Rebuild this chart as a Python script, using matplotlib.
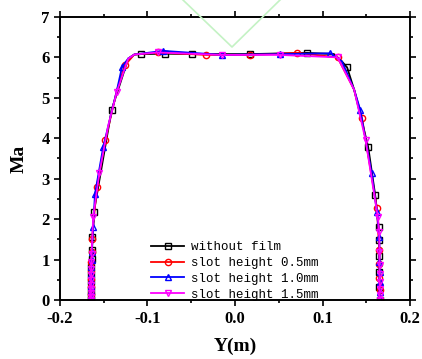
import matplotlib.pyplot as plt
from matplotlib.lines import Line2D
from matplotlib.ticker import MultipleLocator

# Mach number profiles across the channel, Y in metres (marked samples)
y_nofilm = [-0.1645, -0.1645, -0.1644, -0.1643, -0.1642, -0.1640, -0.1638, -0.1634, -0.1628, -0.1612,
            -0.1410, -0.1070, -0.0800, -0.0490, 0.0170, 0.0820, 0.1280, 0.1520,
            0.1600, 0.1640, 0.1645, 0.1647, 0.1648, 0.1649, 0.1650]
ma_nofilm = [0.00, 0.12, 0.28, 0.45, 0.62, 0.82, 1.02, 1.24, 1.55, 2.18,
             4.70, 6.08, 6.09, 6.08, 6.08, 6.11, 5.75, 3.79,
             2.60, 1.81, 1.48, 1.10, 0.70, 0.32, 0.00]

y_05 = [-0.1646, -0.1646, -0.1645, -0.1644, -0.1643, -0.1641, -0.1638, -0.1632, -0.1580, -0.1480,
        -0.1260, -0.0880, -0.0330, 0.0170, 0.0710, 0.1170, 0.1450, 0.1620, 0.1646,
        0.1648, 0.1649, 0.1650, 0.1651]
ma_05 = [0.00, 0.15, 0.32, 0.52, 0.72, 0.95, 1.20, 1.50, 2.80, 3.96,
         5.80, 6.12, 6.06, 6.06, 6.11, 6.00, 4.50, 2.27, 1.24,
         0.90, 0.55, 0.25, 0.00]

y_10 = [-0.1646, -0.1646, -0.1645, -0.1645, -0.1644, -0.1643, -0.1641, -0.1638, -0.1635, -0.1620,
        -0.1600, -0.1505, -0.1290, -0.0820, -0.0150, 0.0510, 0.1090, 0.1430, 0.1560,
        0.1620, 0.1648, 0.1649, 0.1650, 0.1650, 0.1651, 0.1651]
ma_10 = [0.00, 0.10, 0.22, 0.35, 0.50, 0.65, 0.82, 1.00, 1.20, 1.81,
         2.62, 3.79, 5.77, 6.16, 6.06, 6.08, 6.10, 4.70, 3.13,
         2.18, 1.55, 0.95, 0.70, 0.45, 0.20, 0.00]

y_15 = [-0.1647, -0.1647, -0.1646, -0.1646, -0.1645, -0.1645, -0.1644, -0.1643, -0.1641, -0.1638,
        -0.1620, -0.1550, -0.1350, -0.0880, -0.0150, 0.0510, 0.1170, 0.1490, 0.1630,
        0.1647, 0.1649, 0.1650, 0.1651, 0.1651, 0.1652, 0.1652, 0.1652]
ma_15 = [0.00, 0.08, 0.17, 0.27, 0.38, 0.50, 0.63, 0.78, 0.95, 1.15,
         2.06, 3.13, 5.15, 6.12, 6.06, 6.06, 6.00, 3.96, 2.06,
         1.69, 1.20, 0.88, 0.64, 0.44, 0.27, 0.12, 0.00]

# unmarked samples shared by all profiles (shoulders of the core flow)
y_shoulder = [-0.1450, -0.1350, -0.1220, -0.1150, 0.1130, 0.1220, 0.1360]
ma_shoulder = [4.30, 5.18, 5.97, 6.07, 6.08, 5.90, 5.20]

labels = ['without film', 'slot height 0.5mm', 'slot height 1.0mm', 'slot height 1.5mm']
colors = ['black', 'red', 'blue', 'magenta']
markers = ['s', 'o', '^', 'v']

fig = plt.figure(figsize=(4.22, 3.59), dpi=100)
ax = fig.add_axes([0.142, 0.164, 0.830, 0.789])

series = [(y_nofilm, ma_nofilm), (y_05, ma_05), (y_10, ma_10), (y_15, ma_15)]
for (yy, mm), lab, c, mk in zip(series, labels, colors, markers):
    pts = [(y, m, True) for y, m in zip(yy, mm)]
    for y, m in zip(y_shoulder, ma_shoulder):
        # skip shoulder points lying too close to a marked sample
        if all(abs(y - py) > 0.006 for py, _, _ in pts):
            pts.append((y, m, False))
    pts.sort(key=lambda p: p[0])
    xs = [p[0] for p in pts]
    ys = [p[1] for p in pts]
    marked = [i for i, p in enumerate(pts) if p[2]]
    ax.plot(xs, ys, color=c, marker=mk, markevery=marked, markersize=4.5,
            markerfacecolor='none', markeredgewidth=1.0, linewidth=1.3, label=lab)

ax.set_xlim(-0.2, 0.2)
ax.set_ylim(0, 7)
ax.xaxis.set_major_locator(MultipleLocator(0.1))
ax.xaxis.set_minor_locator(MultipleLocator(0.05))
ax.yaxis.set_major_locator(MultipleLocator(1))
ax.yaxis.set_minor_locator(MultipleLocator(0.5))
ax.tick_params(which='both', direction='out', top=True, right=True, width=1.2)
ax.tick_params(which='major', length=4)
ax.tick_params(which='minor', length=2.5)
ax.tick_params(labeltop=False, labelright=False)
for s in ax.spines.values():
    s.set_linewidth(1.4)

ax.set_xticks([-0.2, -0.1, 0.0, 0.1, 0.2])
ax.set_xticklabels(['-0.2', '-0.1', '0.0', '0.1', '0.2'])
for lbl in ax.get_xticklabels() + ax.get_yticklabels():
    lbl.set_fontfamily('Liberation Serif')
    lbl.set_fontweight('bold')
    lbl.set_fontsize(12)

ax.set_xlabel('Y(m)', fontfamily='Liberation Serif', fontweight='bold', fontsize=14, labelpad=8)
ax.set_ylabel('Ma', fontfamily='Liberation Serif', fontweight='bold', fontsize=14, labelpad=10)

ax.legend(loc='lower center', bbox_to_anchor=(0.5, -0.028), frameon=False,
          prop={'family': 'Liberation Mono', 'size': 9}, handlelength=2.6,
          labelspacing=0.3, handletextpad=0.6, borderaxespad=0.2)

# faint green stroke across the top edge
fig.add_artist(Line2D([183 / 422, 232 / 422, 280 / 422], [1.0, 1 - 47 / 359, 1.0],
                      transform=fig.transFigure, color='#c4f2c4', linewidth=1.2, zorder=1))

fig.savefig('out.png', dpi=100)
